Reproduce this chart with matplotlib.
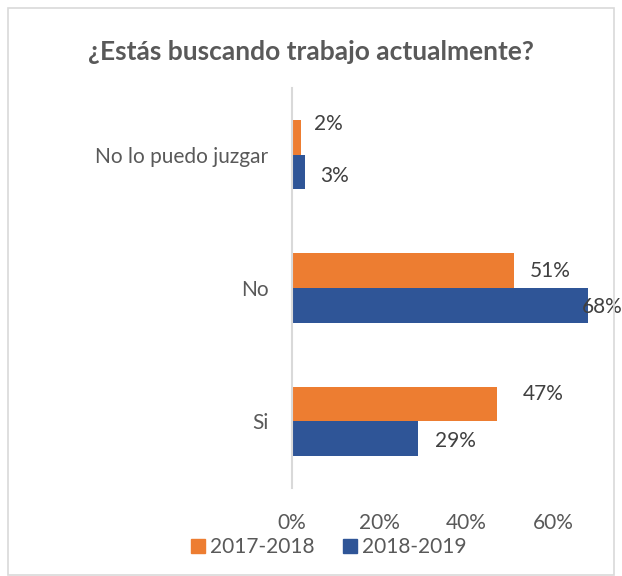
import matplotlib.pyplot as plt
from matplotlib.patches import Rectangle
from matplotlib.ticker import PercentFormatter
from matplotlib.lines import Line2D
import numpy as np

categories = ["Si", "No", "No lo puedo juzgar"]
series_names = ["2017-2018", "2018-2019"]
values_2017 = [0.47, 0.51, 0.02]
values_2018 = [0.29, 0.68, 0.03]
x_ticks = [0.0, 0.2, 0.4, 0.6]

# label offsets in pixels from the bar end (manual placement like the original)
offsets_2017 = [(46, 10), (36, 0), (28, 13)]
offsets_2018 = [(37, -2), (14, -2), (29, -4)]

ORANGE = "#ED7D31"
BLUE = "#2F5597"
GREY = "#595959"
FS = 15

plt.rcParams["font.family"] = ["Lato", "DejaVu Sans"]

fig = plt.figure(figsize=(6.22, 5.76), dpi=100)
fig.patches.append(Rectangle((8 / 622, 1 - 575 / 576), 606 / 622, 567 / 576,
                             transform=fig.transFigure, fill=False,
                             edgecolor="#D9D9D9", linewidth=1.2))

ax = fig.add_axes([292 / 622, 1 - 488 / 576, 305 / 622, 400 / 576])
y = np.arange(len(categories))
h = 0.26
bars1 = ax.barh(y + h / 2, values_2017, height=h, color=ORANGE, label=series_names[0])
bars2 = ax.barh(y - h / 2, values_2018, height=h, color=BLUE, label=series_names[1])

for bars, vals, offs in [(bars1, values_2017, offsets_2017), (bars2, values_2018, offsets_2018)]:
    for b, v, (dx, dy) in zip(bars, vals, offs):
        ax.annotate(f"{v:.0%}", (v, b.get_y() + b.get_height() / 2),
                    xytext=(dx, dy), textcoords="offset pixels",
                    ha="center", va="center", fontsize=FS, color="#404040",
                    annotation_clip=False)

ax.set_xlim(0, 0.70)
ax.set_ylim(-0.5, 2.5)
ax.set_xticks(x_ticks)
ax.xaxis.set_major_formatter(PercentFormatter(1.0, decimals=0))
ax.set_yticks(y)
ax.set_yticklabels(categories)
ax.tick_params(axis="both", length=0, labelsize=FS, colors=GREY)
ax.tick_params(axis="x", pad=18)
ax.tick_params(axis="y", pad=17)
for s in ["top", "right", "bottom"]:
    ax.spines[s].set_visible(False)
ax.spines["left"].set_color("#D9D9D9")
ax.spines["left"].set_linewidth(1.5)

fig.text(0.5, 1 - 52 / 576, "¿Estás buscando trabajo actualmente?", ha="center", va="center",
         fontsize=19, fontweight="bold", color=GREY)

handles = [Line2D([], [], marker="s", linestyle="none", markersize=10, color=ORANGE),
           Line2D([], [], marker="s", linestyle="none", markersize=10, color=BLUE)]
fig.legend(handles, series_names, loc="center", bbox_to_anchor=(327 / 622, 1 - 547 / 576),
           ncol=2, frameon=False, fontsize=FS, labelcolor=GREY,
           handletextpad=0.1, columnspacing=1.2, handlelength=1.0)

fig.savefig("out.png", dpi=100)
